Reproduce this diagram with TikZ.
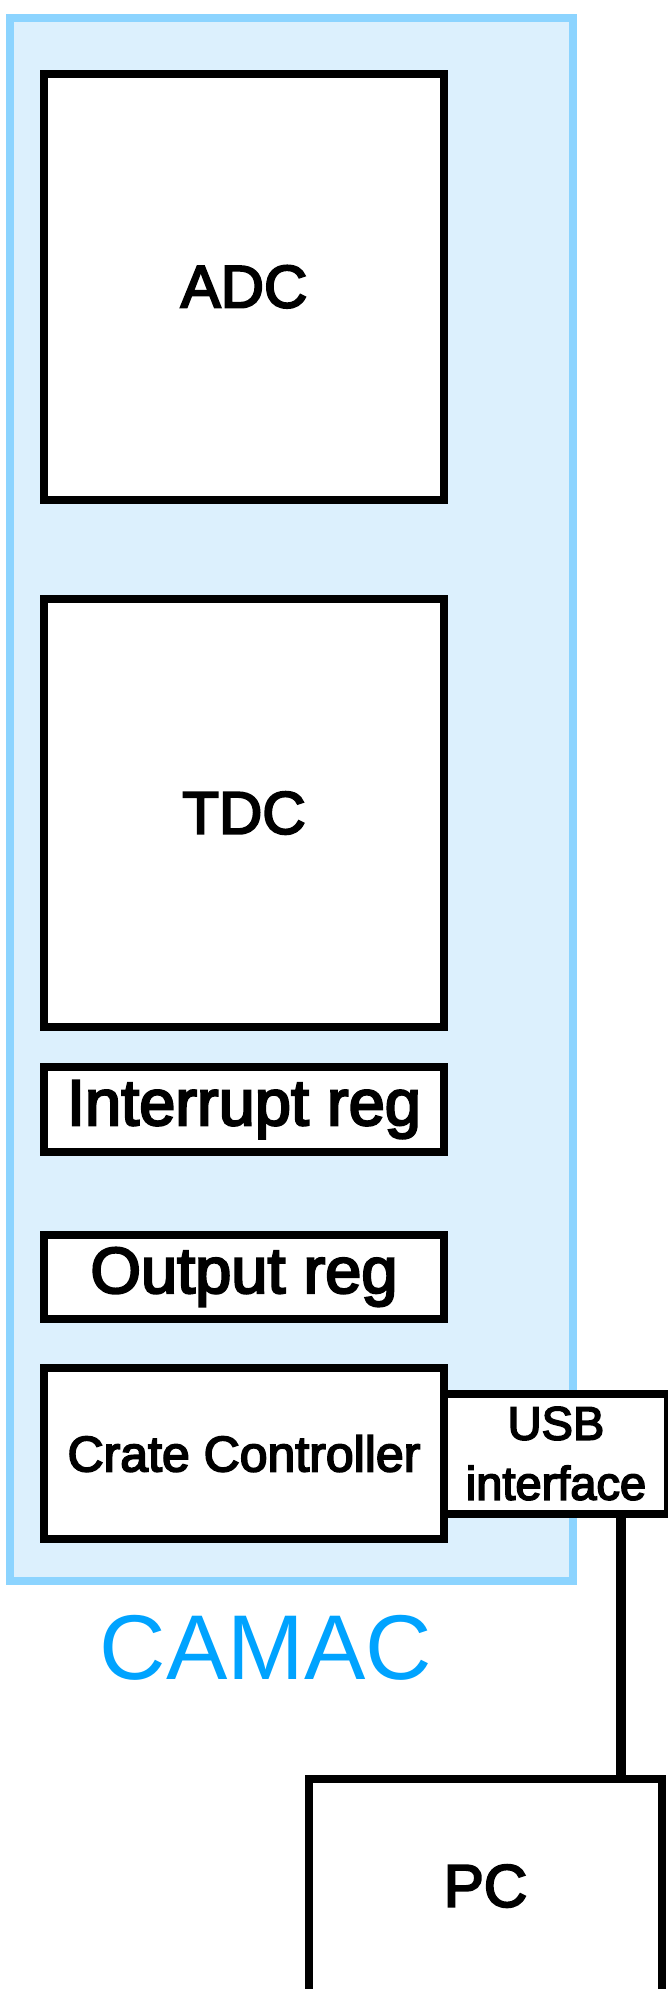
\documentclass[tikz,border=0pt]{standalone}
\usepackage{fontspec}
\setmainfont{Liberation Sans}
\newfontfamily\labelfont{Liberation Sans}[FakeBold=3.5]
\usetikzlibrary{positioning}
\definecolor{camacblue}{RGB}{0,163,255}
\definecolor{camacfill}{RGB}{220,240,253}
\definecolor{camacedge}{RGB}{140,212,255}

\begin{document}
\begin{tikzpicture}[x=1pt, y=1pt,
  module/.style={rectangle, draw=black, line width=8pt, fill=white,
                 outer sep=0pt, inner sep=0pt, minimum width=400pt,
                 font=\fontsize{60}{66}\labelfont},
  wide text/.style={font=\fontsize{65}{72}\labelfont},
  small/.style={font=\fontsize{50}{60}\labelfont, align=center},
  crate box/.style={rectangle, draw=camacedge, fill=camacfill,
                    line width=8pt, outer sep=0pt},
  link/.style={line width=10pt, black}
]
\useasboundingbox (0,0) rectangle (668,-1989);

% CAMAC crate
\node[crate box, minimum width=563pt, minimum height=1563pt] (camac) at (291.5,-799.5) {};
\node[anchor=base, text=camacblue, font=\fontsize{92}{100}\selectfont] (camaclabel)
      at (265.7,-1679) {CAMAC};

% modules
\node[module, minimum height=426.5pt] (adc) at (244,-286.75) {ADC};
\node[module, minimum height=428pt, below=99pt of adc] (tdc) {TDC};
\node[module, wide text, minimum height=85pt, below=40pt of tdc] (intreg) {Interrupt reg};
\node[module, wide text, minimum height=84pt, below=83pt of intreg] (outreg) {Output reg};
\node[module, small, minimum height=171pt, below=49pt of outreg] (crate) {Crate Controller};
\node[module, small, font=\fontsize{47}{60}\labelfont,
      minimum width=224pt, minimum height=120pt, right=0pt of crate] (usb) {USB\\interface};

% computer
\node[module, minimum width=353pt, minimum height=214pt] (pc) at (485.5,-1886) {PC};

\draw[link] ([xshift=65pt]usb.south) -- ([xshift=65pt]usb.south |- pc.north);
\end{tikzpicture}
\end{document}
